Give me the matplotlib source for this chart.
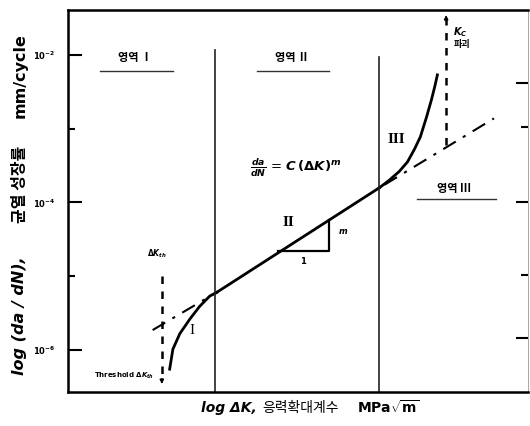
import numpy as np
import matplotlib.pyplot as plt

plt.rcParams['font.family'] = ['DejaVu Sans', 'Noto Sans CJK KR']
plt.rcParams['mathtext.fontset'] = 'custom'
plt.rcParams['mathtext.it'] = 'DejaVu Sans:bold:italic'
plt.rcParams['mathtext.rm'] = 'DejaVu Sans:bold'
plt.rcParams['mathtext.bf'] = 'DejaVu Sans:bold'

# x: log dK (arbitrary units), y: log10(da/dN)
reg1_x = [2.21, 2.28, 2.43, 2.65, 2.86, 3.08, 3.23]
reg1_y = [-6.26, -5.99, -5.78, -5.58, -5.41, -5.27, -5.22]
reg2_x = [3.23, 6.77]
reg2_y = [-5.22, -3.80]
reg3_x = [6.77, 6.98, 7.20, 7.38, 7.53, 7.66, 7.79, 7.90, 7.98, 8.03]
reg3_y = [-3.80, -3.70, -3.58, -3.45, -3.28, -3.11, -2.85, -2.61, -2.41, -2.27]
ext_lo_x = [1.84, 3.23]
ext_lo_y = [-5.73, -5.22]
ext_hi_x = [6.88, 9.26]
ext_hi_y = [-3.76, -2.86]

bounds_x = [3.19, 6.77]
bounds_top = [-1.93, -2.03]
kc_x, kc_y = 8.22, [-3.22, -1.42]
th_x, th_y = 2.04, [-5.00, -6.50]

ytick_vals = [-2, -3, -4, -5, -6]
ytick_labels = [r'$\mathbf{10^{-2}}$', '', r'$\mathbf{10^{-4}}$', '', r'$\mathbf{10^{-6}}$']
rtick_vals = [-2.38, -2.97, -3.99, -4.99, -5.84]

fig = plt.figure(figsize=(5.3, 4.26), dpi=100)
ax = fig.add_axes([68/530, 1-392/426, (528-68)/530, (392-10)/426])
ax.set_xlim(0, 10)
ax.set_ylim(-6.57, -1.39)

ax.plot(reg1_x, reg1_y, color='black', lw=2)
ax.plot(reg2_x, reg2_y, color='black', lw=2)
ax.plot(reg3_x, reg3_y, color='black', lw=2)
ax.plot(ext_lo_x, ext_lo_y, color='black', lw=1.5, dashes=[7, 4, 1.5, 4])
ax.plot(ext_hi_x, ext_hi_y, color='black', lw=1.5, dashes=[7, 4, 1.5, 4])

for bx, bt in zip(bounds_x, bounds_top):
    ax.plot([bx, bx], [bt, -6.57], color='#222222', lw=1.2)

# slope triangle
ax.plot([4.56, 5.68, 5.68], [-4.66, -4.66, -4.24], color='black', lw=1.6)
ax.text(5.10, -4.80, '1', fontsize=6, fontweight='bold', ha='center', va='center')
ax.text(5.97, -4.39, 'm', fontsize=6, fontweight='bold', style='italic', ha='center', va='center')

# Kc and threshold dashed lines
ax.plot([kc_x, kc_x], [kc_y[0], kc_y[1] - 0.08], color='black', lw=1.8, dashes=[3, 3])
ax.annotate('', xy=(kc_x, kc_y[1]), xytext=(kc_x, kc_y[1] - 0.15),
            arrowprops=dict(arrowstyle='-|>', color='black', lw=1, mutation_scale=6))
ax.plot([th_x, th_x], [th_y[0], th_y[1] + 0.08], color='black', lw=1.8, dashes=[3, 3])
ax.annotate('', xy=(th_x, th_y[1]), xytext=(th_x, th_y[1] + 0.15),
            arrowprops=dict(arrowstyle='-|>', color='black', lw=1, mutation_scale=6))

# region labels
kr = ['Noto Sans CJK KR']
for x, y, s in [(1.45, -2.03, '영역 Ⅰ'), (4.88, -2.03, '영역 Ⅱ'), (8.39, -3.81, '영역 Ⅲ')]:
    ax.text(x, y, s, fontsize=8, fontweight='bold', family=kr, ha='center', va='center')
ax.plot([0.69, 2.28], [-2.22, -2.22], color='#333333', lw=1)
ax.plot([4.10, 5.68], [-2.22, -2.22], color='#333333', lw=1)
ax.plot([7.59, 9.31], [-3.95, -3.95], color='#333333', lw=1)

serif = ['Liberation Serif']
ax.text(2.69, -5.74, 'I', fontsize=11, family=serif, ha='center', va='center')
ax.text(4.79, -4.27, 'II', fontsize=11, fontweight='bold', family=serif, ha='center', va='center')
ax.text(7.14, -3.15, 'III', fontsize=11, fontweight='bold', family=serif, ha='center', va='center')

ax.text(3.95, -3.53, r'$\frac{da}{dN}$ = $C\,(\Delta K)^m$', fontsize=9.5, ha='left', va='center')

ax.text(1.93, -4.70, r'$\Delta K_{th}$', fontsize=5.5, ha='center', va='center')
ax.text(1.21, -6.35, r'Threshold $\Delta K_{th}$', fontsize=5, fontweight='bold', ha='center', va='center')
ax.text(8.38, -1.69, r'$K_C$', fontsize=7, ha='left', va='center')
ax.text(8.38, -1.86, '파괴', fontsize=6.5, fontweight='bold', family=kr, ha='left', va='center')

# axes styling
ax.set_xticks([])
ax.set_yticks(ytick_vals)
ax.set_yticklabels(ytick_labels, fontsize=6)
ax.tick_params(axis='y', direction='in', length=10, width=1.5, pad=9)
for t, v in zip(ax.yaxis.get_major_ticks(), ytick_vals):
    if v in (-3, -5):
        t.tick1line.set_markersize(5)
for side in ['left', 'bottom', 'top']:
    ax.spines[side].set_linewidth(1.8)
ax.spines['right'].set_linewidth(0.6)
ax.spines['right'].set_color('#999999')

ax2 = ax.twinx()
ax2.set_ylim(ax.get_ylim())
ax2.set_yticks(rtick_vals)
ax2.set_yticklabels([])
ax2.tick_params(axis='y', direction='in', length=9, width=1.5)
for t, v in zip(ax2.yaxis.get_major_ticks(), rtick_vals):
    if v in (-2.97, -4.99):
        t.tick2line.set_markersize(5)
for s in ax2.spines.values():
    s.set_visible(False)

# axis labels built from pieces (mathtext has no Korean glyphs)
W, H = 530.0, 426.0
ylab_parts = [('log (da / dN),', 316, dict(style='italic', family=['DejaVu Sans'])),
              ('균열 성장률', 184, dict(family=kr)),
              ('mm/cycle', 76, dict(family=['DejaVu Sans']))]
for s, yc, kw in ylab_parts:
    fig.text(20/W, 1 - yc/H, s, rotation=90, fontsize=11.5, fontweight='bold',
             ha='center', va='center', **kw)

xlab_parts = [('log ΔK,', 229, dict(style='italic', family=['DejaVu Sans']), 'bold'),
              ('응력확대계수', 301, dict(family=kr), 'normal'),
              (r'MPa$\sqrt{\mathbf{m}}$', 388, dict(family=['DejaVu Sans']), 'bold')]
for s, xc, kw, w in xlab_parts:
    fig.text(xc/W, 1 - 408/H, s, fontsize=10, fontweight=w,
             ha='center', va='center', **kw)

fig.savefig('out.png', dpi=100)
